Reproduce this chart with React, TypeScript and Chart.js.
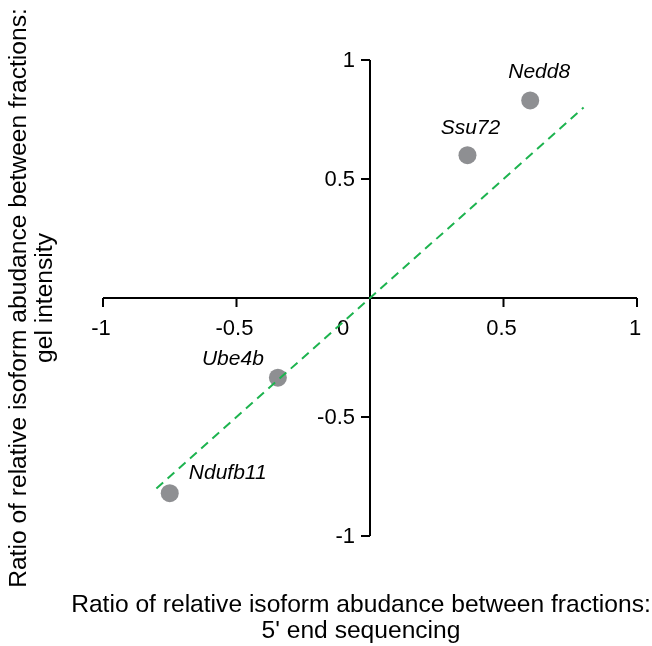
import React, { useEffect, useRef } from "react";
import { Chart, registerables } from "chart.js";
Chart.register(...registerables);

const genes = ["Nedd8", "Ssu72", "Ube4b", "Ndufb11"];
const seqRatio = [0.6, 0.365, -0.345, -0.75];
const gelRatio = [0.83, 0.6, -0.335, -0.82];
const fitX = [-0.8, 0.8];
const fitY = [-0.8, 0.8];
const xTicks = [-1, -0.5, 0.5, 1];
const xTickLabels = ["-1", "-0.5", "0.5", "1"];
const yTicks = [1, 0.5, -0.5, -1];
const yTickLabels = ["1", "0.5", "-0.5", "-1"];
const xTitle = ["Ratio of relative isoform abudance between fractions:", "5' end sequencing"];
const yTitle = ["Ratio of relative isoform abudance between fractions:", "gel intensity"];

// label offsets (px) from each point
const labelOffsets = [
  [9, -28],
  [3, -27],
  [-45, -19],
  [58, -20],
];

const FONT = '"Liberation Sans", Arial, sans-serif';

const axesPlugin = {
  id: "crossAxes",
  beforeDatasetsDraw(chart: any) {
    const { ctx } = chart;
    const xs = chart.scales.x;
    const ys = chart.scales.y;
    const x0 = xs.getPixelForValue(0);
    const y0 = ys.getPixelForValue(0);
    ctx.save();
    ctx.strokeStyle = "#000";
    ctx.lineWidth = 2;
    ctx.beginPath();
    ctx.moveTo(xs.getPixelForValue(-1), y0);
    ctx.lineTo(xs.getPixelForValue(1), y0);
    ctx.moveTo(x0, ys.getPixelForValue(1));
    ctx.lineTo(x0, ys.getPixelForValue(-1));
    xTicks.forEach((v) => {
      const px = xs.getPixelForValue(v);
      ctx.moveTo(px, y0);
      ctx.lineTo(px, y0 + 9);
    });
    yTicks.forEach((v) => {
      const py = ys.getPixelForValue(v);
      ctx.moveTo(x0, py);
      ctx.lineTo(x0 - 9, py);
    });
    ctx.stroke();

    ctx.fillStyle = "#000";
    ctx.font = `22px ${FONT}`;
    ctx.textAlign = "center";
    ctx.textBaseline = "middle";
    xTicks.forEach((v, i) => {
      ctx.fillText(xTickLabels[i], xs.getPixelForValue(v) - 2, y0 + 31);
    });
    ctx.fillText("0", x0 - 27, y0 + 31);
    ctx.textAlign = "right";
    yTicks.forEach((v, i) => {
      ctx.fillText(yTickLabels[i], x0 - 15, ys.getPixelForValue(v) + 1);
    });

    ctx.font = `24.6px ${FONT}`;
    ctx.textAlign = "center";
    ctx.fillText(xTitle[0], 361, 605);
    ctx.fillText(xTitle[1], 361, 631);
    ctx.translate(19, 298);
    ctx.rotate(-Math.PI / 2);
    ctx.fillText(yTitle[0], 0, 0);
    ctx.fillText(yTitle[1], 0, 26);
    ctx.restore();
  },
  afterDatasetsDraw(chart: any) {
    const { ctx } = chart;
    const xs = chart.scales.x;
    const ys = chart.scales.y;
    ctx.save();
    ctx.fillStyle = "#000";
    ctx.font = `italic 21px ${FONT}`;
    ctx.textAlign = "center";
    ctx.textBaseline = "middle";
    genes.forEach((g, i) => {
      const px = xs.getPixelForValue(seqRatio[i]) + labelOffsets[i][0];
      const py = ys.getPixelForValue(gelRatio[i]) + labelOffsets[i][1];
      ctx.fillText(g, px, py);
    });
    ctx.restore();
  },
};

export default function App() {
  const ref = useRef<HTMLCanvasElement>(null);
  useEffect(() => {
    if (!ref.current) return;
    const chart = new Chart(ref.current, {
      type: "scatter",
      data: {
        datasets: [
          {
            type: "line",
            data: fitX.map((x, i) => ({ x, y: fitY[i] })),
            borderColor: "#1db34f",
            borderWidth: 2,
            borderDash: [9, 6],
            pointRadius: 0,
            fill: false,
            order: 0,
          } as any,
          {
            type: "scatter",
            data: seqRatio.map((x, i) => ({ x, y: gelRatio[i] })),
            backgroundColor: "#8e8f92",
            borderColor: "#8e8f92",
            borderWidth: 0,
            pointRadius: 9,
            order: 1,
          },
        ],
      },
      options: {
        responsive: false,
        animation: false,
        layout: { padding: { left: 103, right: 15, top: 60, bottom: 110 } },
        plugins: { legend: { display: false }, tooltip: { enabled: false } },
        scales: {
          x: { type: "linear", min: -1, max: 1, display: false },
          y: { type: "linear", min: -1, max: 1, display: false },
        },
      },
      plugins: [axesPlugin],
    });
    return () => chart.destroy();
  }, []);
  return (
    <div style={{ position: "fixed", left: 0, top: 0, width: 652, height: 646, background: "#fff" }}>
      <canvas ref={ref} width={652} height={646} style={{ display: "block" }} />
    </div>
  );
}
